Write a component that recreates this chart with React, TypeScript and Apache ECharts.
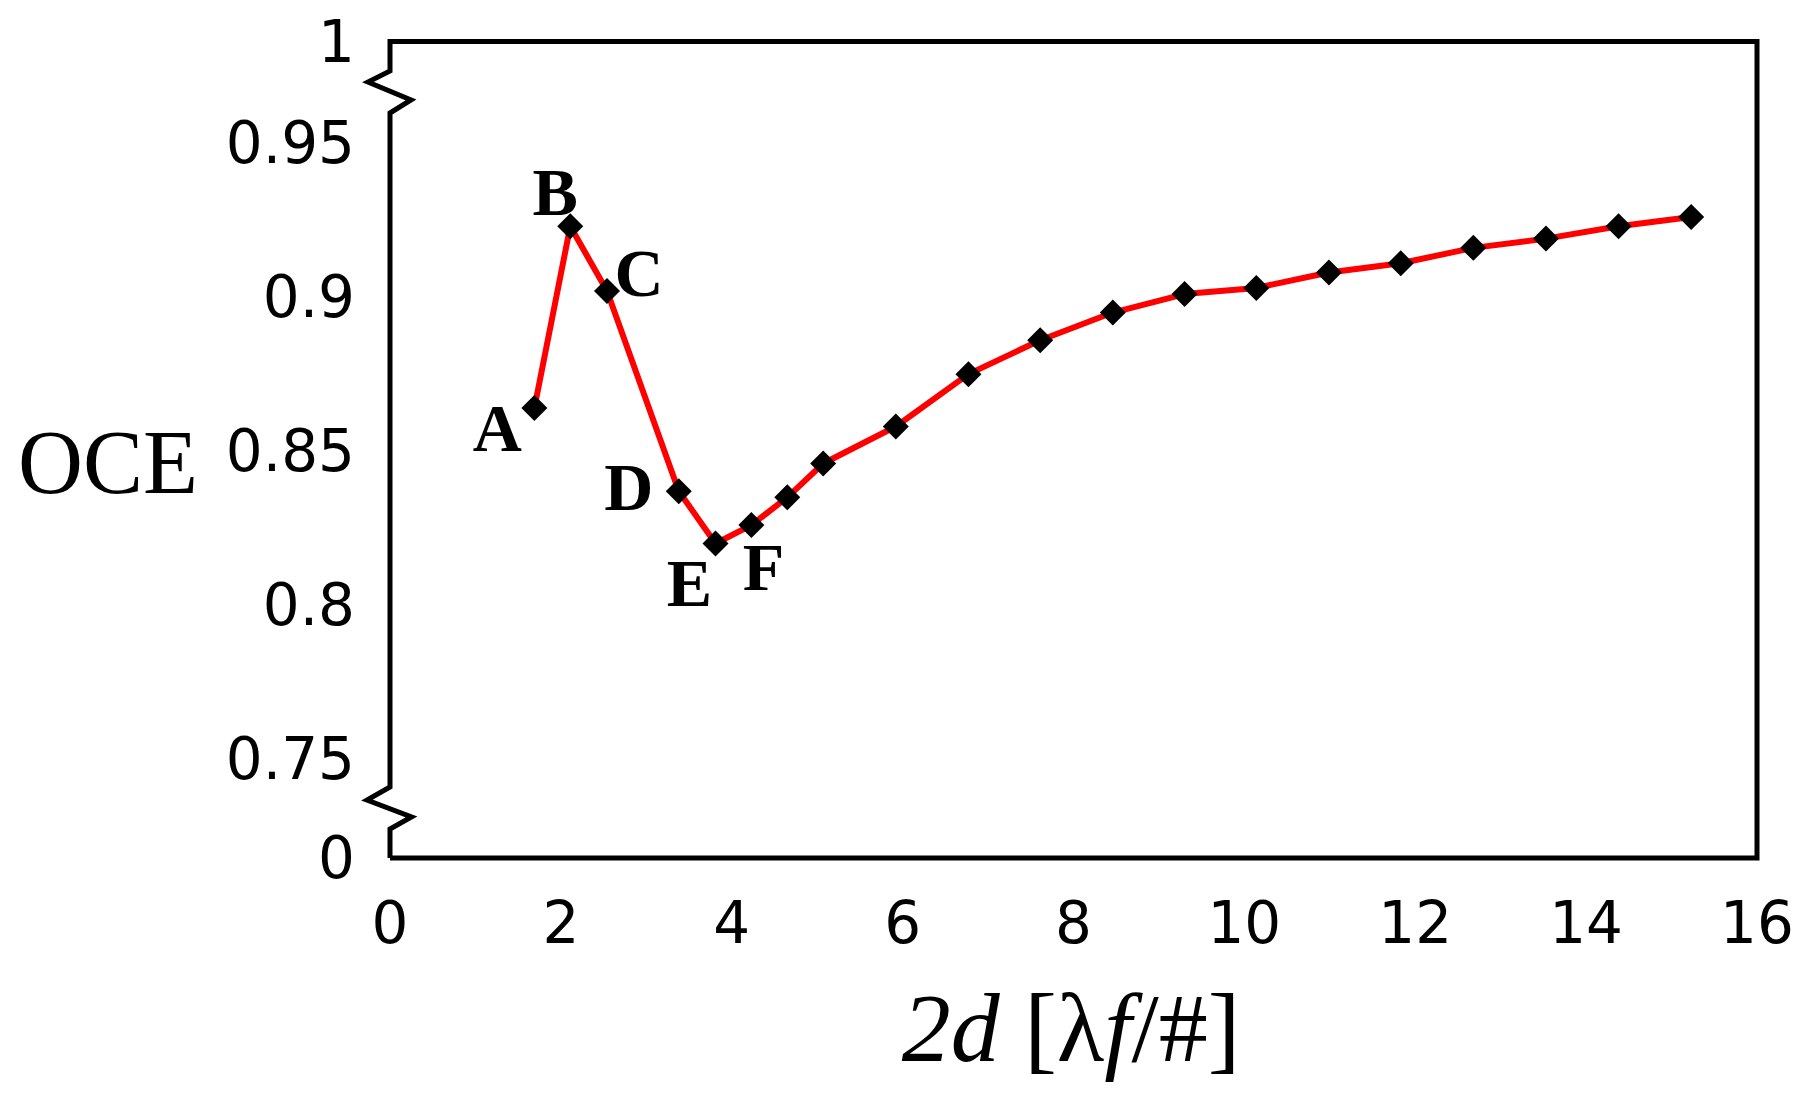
import React, { useEffect, useRef } from "react";
import * as echarts from "echarts";

// ---- data ----
const xValues = [1.69, 2.11, 2.54, 3.38, 3.81, 4.23, 4.65, 5.07, 5.92, 6.77, 7.61, 8.46, 9.3, 10.14, 10.99, 11.83, 12.68, 13.53, 14.38, 15.23];
const oceValues = [0.864, 0.923, 0.902, 0.837, 0.820, 0.826, 0.835, 0.846, 0.858, 0.875, 0.886, 0.895, 0.901, 0.903, 0.908, 0.911, 0.916, 0.919, 0.923, 0.926];
const pointLabels = ["A", "B", "C", "D", "E", "F"];
const yTickValues = [0.75, 0.8, 0.85, 0.9, 0.95];
const breakLowLabel = "0";
const breakHighLabel = "1";
const xTickMin = 0;
const xTickMax = 16;
const xTickStep = 2;
const yTitle = "OCE";

// ---- layout / style ----
const W = 1814;
const H = 1095;
const GRID_LEFT = 390;
const GRID_RIGHT = 57;
const GRID_TOP = 41.5;
const GRID_BOTTOM = 237;
const Y_MIN = 0.7179;
const Y_MAX = 0.983;
const labelOffsets: [number, number][] = [
  [-37, 20],
  [-15, -34],
  [32, -18],
  [-50, -4],
  [-26, 39],
  [12, 42],
];

export default function App() {
  const ref = useRef<HTMLDivElement>(null);
  useEffect(() => {
    if (!ref.current) return;
    const chart = echarts.init(ref.current, null, { renderer: "svg" });
    const L = GRID_LEFT;
    const R = W - GRID_RIGHT;
    const T = GRID_TOP;
    const B = H - GRID_BOTTOM;
    const frame = [
      [L, B], [R, B], [R, T], [L, T],
      [L, T + 29.5], [L - 22, T + 40.5], [L + 21, T + 58.5], [L, T + 71.5],
      [L, B - 71], [L - 23, B - 58], [L + 21.5, B - 41], [L, B - 29],
      [L, B],
    ];
    const data = xValues.map((x, i) => {
      const item: any = { value: [x, oceValues[i]] };
      if (i < pointLabels.length) {
        item.label = {
          show: true,
          formatter: pointLabels[i],
          position: "inside",
          offset: labelOffsets[i],
          fontFamily: "Liberation Serif",
          fontWeight: "bold",
          fontSize: 68,
          color: "#000",
        };
      }
      return item;
    });
    chart.setOption({
      animation: false,
      backgroundColor: "#fff",
      grid: { left: GRID_LEFT, right: GRID_RIGHT, top: GRID_TOP, bottom: GRID_BOTTOM, containLabel: false },
      xAxis: {
        type: "value",
        min: xTickMin,
        max: xTickMax,
        interval: xTickStep,
        axisLine: { show: false },
        axisTick: { show: false },
        splitLine: { show: false },
        axisLabel: { fontFamily: "DejaVu Sans", fontSize: 58, color: "#000", margin: 36 },
      },
      yAxis: {
        type: "value",
        min: Y_MIN,
        max: Y_MAX,
        axisLine: { show: false },
        axisTick: { show: false },
        splitLine: { show: false },
        axisLabel: {
          customValues: [Y_MIN, ...yTickValues, Y_MAX],
          fontFamily: "DejaVu Sans",
          fontSize: 58,
          color: "#000",
          margin: 35,
          formatter: (v: number) =>
            Math.abs(v - Y_MIN) < 1e-6 ? breakLowLabel : Math.abs(v - Y_MAX) < 1e-6 ? breakHighLabel : String(v),
        },
      },
      series: [
        {
          type: "line",
          data,
          symbol: "diamond",
          symbolSize: 26,
          itemStyle: { color: "#000" },
          lineStyle: { color: "#ff0000", width: 6 },
          emphasis: { disabled: true },
          z: 3,
        },
      ],
      graphic: [
        {
          type: "polyline",
          shape: { points: frame },
          style: { stroke: "#000", lineWidth: 5, fill: "none", lineJoin: "miter" },
          z: 10,
          silent: true,
        },
        {
          type: "text",
          x: 108,
          y: 462,
          style: {
            text: yTitle,
            font: "90px 'Liberation Serif'",
            fill: "#000",
            align: "center",
            verticalAlign: "middle",
          },
          silent: true,
        },
        {
          type: "text",
          x: 1071,
          y: 1028,
          style: {
            text: "{i|2d} [λ{i|f}/#]",
            fontFamily: "Liberation Serif",
            fontSize: 98,
            fill: "#000",
            align: "center",
            verticalAlign: "middle",
            rich: {
              i: { fontStyle: "italic", fontFamily: "Liberation Serif", fontSize: 98, fill: "#000" },
            },
          },
          silent: true,
        },
      ],
    });
    return () => chart.dispose();
  }, []);
  return <div ref={ref} style={{ position: "absolute", left: 0, top: 0, width: W, height: H }} />;
}
